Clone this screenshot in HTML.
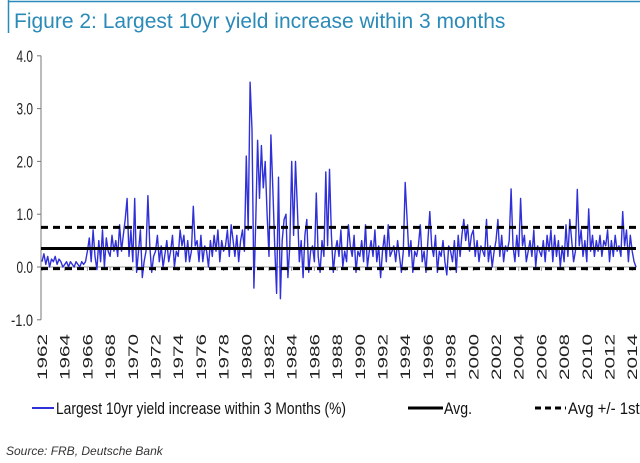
<!DOCTYPE html>
<html><head><meta charset="utf-8"><style>
html,body{margin:0;padding:0;background:#fff;}
svg{display:block;font-family:"Liberation Sans",sans-serif;}
</style></head><body>
<svg id="chart" width="640" height="463" viewBox="0 0 640 463">
<line x1="8" y1="1.5" x2="640" y2="1.5" stroke="#2a8ab8" stroke-width="1.5"/>
<line x1="8.5" y1="0" x2="8.5" y2="33" stroke="#2a8ab8" stroke-width="1.5"/>
<text x="14" y="28" font-size="21" fill="#2a8ab8">Figure 2: Largest 10yr yield increase within 3 months</text>
<g id="axes"></g>
<g id="series"></g>
<g id="legend">
<line x1="32" y1="408" x2="54" y2="408" stroke="#3030d8" stroke-width="2"/>
<text x="56" y="414" font-size="17" textLength="290" lengthAdjust="spacingAndGlyphs" fill="#111">Largest 10yr yield increase within 3 Months (%)</text>
<line x1="408" y1="408" x2="443" y2="408" stroke="#000" stroke-width="3"/>
<text x="444" y="414" font-size="17" textLength="28" lengthAdjust="spacingAndGlyphs" fill="#111">Avg.</text>
<line x1="535" y1="408" x2="566" y2="408" stroke="#000" stroke-width="3" stroke-dasharray="6,4"/>
<text x="568" y="414" font-size="17" textLength="80" lengthAdjust="spacingAndGlyphs" fill="#111">Avg +/- 1std</text>
</g>
<text x="6" y="455" font-size="12" font-style="italic" fill="#333">Source: FRB, Deutsche Bank</text>
</svg>
<script>
const yTicks=[4,3,2,1,0,-1];
const yTickLabels=["4.0","3.0","2.0","1.0","0.0","-1.0"];
const xYears=[1962,1964,1966,1968,1970,1972,1974,1976,1978,1980,1982,1984,1986,1988,1990,1992,1994,1996,1998,2000,2002,2004,2006,2008,2010,2012,2014];
const avgValue=0.35;
const stdUpper=0.75;
const stdLower=-0.03;
const startYear=1962;
const pointsPerYear=6;
const values=[
/*1962*/0.1,0.25,0.05,0.2,0.0,0.15,
/*1963*/0.1,0.2,0.05,0.15,0.1,0.0,
/*1964*/0.05,0.1,0.0,0.1,0.05,0.0,
/*1965*/0.1,0.05,0.0,0.1,0.05,0.1,
/*1966*/0.3,0.55,0.1,0.7,0.2,-0.05,
/*1967*/0.5,0.1,0.7,0.0,0.55,0.3,
/*1968*/0.2,0.6,0.3,0.5,0.2,0.8,
/*1969*/0.3,0.6,0.9,1.3,0.2,0.7,
/*1970*/0.1,1.3,-0.1,0.3,0.7,-0.2,
/*1971*/0.1,0.3,1.35,0.4,-0.1,0.2,
/*1972*/0.3,0.6,0.1,0.4,0.0,0.25,
/*1973*/0.5,0.1,0.3,0.6,0.0,0.3,
/*1974*/0.2,0.7,0.4,0.6,0.1,0.5,
/*1975*/0.1,0.3,1.15,0.4,0.5,0.1,
/*1976*/0.6,0.1,0.4,0.3,0.0,0.5,
/*1977*/0.2,0.6,0.3,0.7,0.1,0.5,
/*1978*/0.3,0.4,0.7,0.2,0.8,0.5,
/*1979*/0.2,0.6,0.1,0.5,0.7,0.3,
/*1980*/2.1,0.7,3.5,2.6,-0.4,0.9,
/*1981*/2.4,1.3,2.3,1.5,2.0,1.0,
/*1982*/0.2,2.5,1.5,0.4,-0.5,1.7,
/*1983*/-0.6,0.5,0.9,1.0,-0.2,0.4,
/*1984*/2.0,0.6,2.0,1.1,0.1,0.5,
/*1985*/-0.2,0.6,0.9,-0.1,0.3,0.4,
/*1986*/0.1,1.4,0.2,-0.1,0.5,0.2,
/*1987*/1.8,0.4,1.85,0.6,-0.1,0.3,
/*1988*/0.5,0.2,0.7,0.0,0.3,0.1,
/*1989*/0.8,0.4,0.2,0.6,-0.1,0.3,
/*1990*/0.2,0.5,0.1,0.8,0.0,0.3,
/*1991*/0.5,0.2,0.7,0.1,0.4,-0.2,
/*1992*/0.3,0.6,0.1,0.8,0.2,0.3,
/*1993*/0.4,0.1,0.5,0.2,-0.1,0.3,
/*1994*/1.6,0.9,0.2,0.5,-0.1,0.3,
/*1995*/0.2,0.4,0.8,0.1,0.3,-0.1,
/*1996*/0.5,1.05,0.4,0.2,0.6,-0.1,
/*1997*/0.3,0.2,0.5,0.1,-0.15,0.4,
/*1998*/0.3,0.1,0.5,-0.1,0.6,0.2,
/*1999*/0.6,0.9,0.5,0.8,0.3,0.6,
/*2000*/0.7,0.2,0.5,0.1,0.4,0.3,
/*2001*/0.2,0.9,0.1,0.4,0.0,0.3,
/*2002*/0.5,0.9,0.2,0.6,0.1,0.4,
/*2003*/0.3,0.5,1.48,0.4,0.1,0.6,
/*2004*/0.2,1.3,0.4,0.6,0.1,0.3,
/*2005*/0.5,0.2,0.7,0.0,0.4,0.3,
/*2006*/0.2,0.5,0.1,0.6,0.3,0.7,
/*2007*/0.1,0.6,0.2,0.5,0.0,0.4,
/*2008*/0.1,0.8,0.2,0.9,0.5,0.1,
/*2009*/0.3,1.47,0.4,0.7,0.2,0.5,
/*2010*/0.1,1.1,0.3,0.6,0.2,0.5,
/*2011*/0.3,0.6,0.2,0.5,0.4,0.7,
/*2012*/0.1,0.5,0.2,0.6,0.3,0.4,
/*2013*/0.2,1.05,0.4,0.7,0.1,0.6,
/*2014*/0.3,0.1,0.0
];
const NS="http://www.w3.org/2000/svg";
const X0=42, PX_PER_YEAR=11.35, Y0=267, PX_PER_UNIT=52.8;
function xScale(t){return X0+(t-startYear)*PX_PER_YEAR;}
function yScale(v){return Y0-v*PX_PER_UNIT;}
function mk(tag,attrs,parent){const e=document.createElementNS(NS,tag);for(const k in attrs)e.setAttribute(k,attrs[k]);parent.appendChild(e);return e;}
const axes=document.getElementById('axes');
const series=document.getElementById('series');
const yAxis=mk('line',{x1:41,y1:yScale(4),x2:41,y2:yScale(-1),stroke:'#777','stroke-width':1},axes);


yTicks.forEach((v,i)=>{
  const t=mk('line',{x1:37,y1:yScale(v),x2:41,y2:yScale(v),stroke:'#777'},axes);
  
  
  const l=mk('text',{x:33,y:yScale(v)+6,'font-size':17,'text-anchor':'end',fill:'#222',textLength:yTickLabels[i].length*5.5,lengthAdjust:'spacingAndGlyphs'},axes);
  l.textContent=yTickLabels[i];
  
  
});
const xAxis=mk('line',{x1:41,y1:yScale(0),x2:xScale(2014.4),y2:yScale(0),stroke:'#999','stroke-width':1},axes);


xYears.forEach(yr=>{
  const x=xScale(yr);
  const t=mk('line',{x1:x,y1:yScale(0),x2:x,y2:yScale(0)+4,stroke:'#999'},axes);
  
  
  const l=mk('text',{x:0,y:0,'font-size':14,'text-anchor':'end',fill:'#222',textLength:46,lengthAdjust:'spacingAndGlyphs',transform:`translate(${x+5},334) rotate(-90)`},axes);
  l.textContent=String(yr);
  
  
});
let d='';
values.forEach((v,i)=>{const t=startYear+i/pointsPerYear;d+=(i?'L':'M')+xScale(t).toFixed(1)+','+yScale(v).toFixed(1);});
const line=mk('path',{d:d,fill:'none',stroke:'#3030d8','stroke-width':1.4,'stroke-linejoin':'round'},series);


const xEnd=xScale(startYear+(values.length-1)/pointsPerYear);
const avg=mk('line',{x1:41,y1:yScale(avgValue),x2:xEnd,y2:yScale(avgValue),stroke:'#000','stroke-width':3},series);


[stdUpper,stdLower].forEach(v=>{
  const s=mk('line',{x1:41,y1:yScale(v),x2:xEnd,y2:yScale(v),stroke:'#000','stroke-width':3,'stroke-dasharray':'7,5'},series);
  
  
});
</script>
</body></html>
